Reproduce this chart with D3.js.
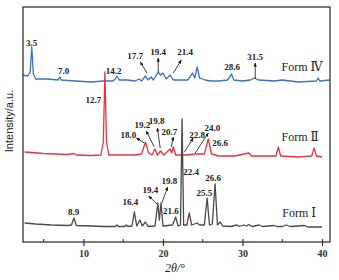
<!DOCTYPE html>
<html>
<head>
<meta charset="utf-8">
<style>
  body { margin: 0; background: #fff; }
  text { font-family: "Liberation Serif", "DejaVu Serif", serif; }
</style>
<script src="https://d3js.org/d3.v7.min.js"></script>
</head>
<body>
<div id="chart"></div>
<script>
// ---- data: [2theta, intensity (a.u., offset stacked)] ----
const formIV = [[2.4,167],[3.0,166],[3.3,170],[3.5,195],[3.7,168],[4.0,163],[5.5,163],[6.8,162],[7.0,165],[7.2,162],
  [9,161],[11,160],[12.5,161],[13.7,161],[14.0,163],[14.2,166],[14.5,162],[15.5,162],[16.5,161],[17.0,163],[17.3,161],
  [17.8,166],[18.1,162],[18.5,165],[18.8,162],[19.1,166],[19.4,170],[19.7,167],[20.0,169],[20.4,163],[20.9,167],
  [21.3,162],[22,162],[23.1,162],[23.4,165],[23.7,169],[24.0,164],[24.3,175],[24.6,164],[25.3,162],[26,161],[27,161],
  [28.1,162],[28.4,165],[28.6,168],[28.9,162],[30,161],[31,162],[31.5,164],[32,162],[34,161],[35,162],[37,160],
  [39.3,161],[39.5,164],[39.7,161],[41,162]];
const formII = [[2.6,90],[5,88.5],[8,87.5],[8.8,88.5],[9.1,87],[11,86.5],[12.2,87],[12.5,100],[12.7,170],[12.9,100],
  [13.2,87],[15,87],[16.5,87],[17.3,88],[17.8,100],[18.2,89],[18.6,87],[19.0,93],[19.3,87],[19.7,91],[20.1,87],
  [20.9,93],[21.1,89],[21.3,95],[21.6,87],[22.4,87],[23,87],[24,88],[25.2,88],[25.7,103],[26.1,88],[27,86],[29,86],
  [30.8,89],[31.1,86],[33,86],[34.2,86],[34.5,95],[34.8,86],[37,85],[38.7,86],[39.0,94],[39.3,86],[40,85]];
const formI = [[2.6,19],[4,18],[6,17],[8,16.5],[8.5,17],[8.8,24],[9.1,16.5],[11,16],[12.5,15.5],[14.0,15.5],[14.2,17],
  [14.4,15.5],[15.2,15.5],[15.4,17],[15.6,15.5],[16.1,16],[16.4,30],[16.7,16],[17.1,22],[17.4,16],[17.8,20],[18.1,15.5],
  [19.0,16],[19.35,39],[19.55,22],[19.75,39],[20.0,16],[21.2,17],[21.6,25],[21.9,16],[22.2,17],[22.4,123],[22.6,17],
  [23.0,17],[23.3,29],[23.6,17],[24.3,19],[24.6,17],[25.2,17],[25.55,44],[25.85,17],[26.2,18],[26.55,58],[26.85,17],
  [27.2,20],[27.5,16],[28.5,15.5],[29.3,17],[29.6,15.5],[30.2,17],[30.5,16],[30.8,17.5],[31.2,15.5],[32.1,17],
  [32.5,15.5],[34,16.5],[34.3,15.5],[35,15.5],[35.5,17],[36,15.5],[37.8,16.5],[38.2,15],[40,15]];

const seriesNames = ["Form \u2163", "Form \u2161", "Form \u2160"];
const seriesColors = ["#3a72c4", "#e8343c", "#4a4a4a"];
const seriesNameAt = [[34.9,175],[34.9,105],[35.0,29]];

// peak labels: [text, 2theta, intensity]
const peakLabels = [
  ["3.5",3.5,199],["7.0",7.5,171],["14.2",13.8,171],["17.7",16.5,186],["19.4",19.4,190],["21.4",22.8,190],
  ["28.6",28.7,175],["31.5",31.6,185],
  ["12.7",11.25,142],["18.0",15.65,107],["19.2",17.4,117],["19.8",19.2,121],["20.7",20.8,110],["22.8",24.3,107],
  ["24.0",26.2,114],["26.6",27.2,99],
  ["8.9",8.75,30],["16.4",15.9,40],["19.4",18.4,52],["19.8",20.8,61],["21.6",21.0,31],["22.4",23.55,70],
  ["25.5",25.2,49],["26.6",26.3,64]
];
// arrows: [from 2theta, from I, to 2theta, to I]
const arrows = [
  [18.0,169,17.15,180],[19.4,170,19.4,184],[21.3,169,22.3,182],[31.6,163,31.6,179],
  [17.65,99,16.65,104],[18.9,95,17.9,111],[19.65,94,19.3,114],[21.05,95,21.3,105],[22.7,90,23.8,104],[24.05,89,25.7,109],
  [19.25,38,18.2,46],[19.85,39,20.6,55]
];
const majorTicks = [10, 20, 30, 40];
const minorTicks = [5, 15, 25, 35];

const W = 339, H = 280;
const margin = { top: 7, right: 9, bottom: 38, left: 23 };

const svg = d3.select("#chart").append("svg")
  .attr("width", W).attr("height", H);

const x = d3.scaleLinear().domain([2.4, 41]).range([margin.left, W - margin.right]);
const y = d3.scaleLinear().domain([0, 235]).range([H - margin.bottom, margin.top]);

svg.append("defs").append("marker")
  .attr("id", "head").attr("viewBox", "0 0 10 10")
  .attr("refX", 9).attr("refY", 5)
  .attr("markerWidth", 5).attr("markerHeight", 5)
  .attr("orient", "auto")
  .append("path").attr("d", "M0,1L10,5L0,9Z").attr("fill", "#111");

// curves
const line = d3.line().x(d => x(d[0])).y(d => y(d[1]));
[formIV, formII, formI].forEach((s, i) => {
  svg.append("path").datum(s)
    .attr("fill", "none")
    .attr("stroke", seriesColors[i])
    .attr("stroke-width", 1.3)
    .attr("stroke-linejoin", "round")
    .attr("d", line);
});

// frame
svg.append("rect")
  .attr("x", margin.left).attr("y", margin.top)
  .attr("width", W - margin.left - margin.right)
  .attr("height", H - margin.top - margin.bottom)
  .attr("fill", "none").attr("stroke", "#333").attr("stroke-width", 1.3);

// x axis
const xAxis = svg.append("g").attr("transform", `translate(0,${H - margin.bottom})`)
  .call(d3.axisBottom(x).tickValues(majorTicks).tickSize(4).tickPadding(4).tickFormat(d3.format("d")));
xAxis.select(".domain").remove();
xAxis.selectAll(".tick line").attr("stroke", "#333").attr("y1", -3).attr("stroke-width", 1.2);
xAxis.selectAll("text").attr("font-size", 10).attr("font-weight", "bold")
  .attr("font-family", "Liberation Serif").attr("fill", "#333");
svg.append("g").selectAll("line").data(minorTicks).join("line")
  .attr("x1", d => x(d)).attr("x2", d => x(d))
  .attr("y1", H - margin.bottom).attr("y2", H - margin.bottom - 3)
  .attr("stroke", "#333").attr("stroke-width", 1.1);

// axis titles
svg.append("text")
  .attr("x", x(21.5)).attr("y", 272)
  .attr("text-anchor", "middle").attr("font-size", 12).attr("font-style", "italic").attr("fill", "#222")
  .text("2\u03b8/\u00b0");
svg.append("text")
  .attr("transform", `translate(13,${y(121)}) rotate(-90)`)
  .attr("text-anchor", "middle")
  .style("font-family", "Liberation Sans, Arial, sans-serif")
  .attr("font-size", 11).attr("fill", "#222")
  .text("Intensity/a.u.");

// arrows
svg.append("g").selectAll("line").data(arrows).join("line")
  .attr("x1", d => x(d[0])).attr("y1", d => y(d[1]))
  .attr("x2", d => x(d[2])).attr("y2", d => y(d[3]))
  .attr("stroke", "#111").attr("stroke-width", 0.8)
  .attr("marker-end", "url(#head)");

// peak labels
svg.append("g").selectAll("text").data(peakLabels).join("text")
  .attr("x", d => x(d[1])).attr("y", d => y(d[2]))
  .attr("text-anchor", "middle").attr("dominant-baseline", "central")
  .attr("font-size", 9).attr("font-weight", "bold").attr("fill", "#222")
  .text(d => d[0]);

// series names
svg.append("g").selectAll("text").data(seriesNames).join("text")
  .attr("x", (d, i) => x(seriesNameAt[i][0])).attr("y", (d, i) => y(seriesNameAt[i][1]))
  .attr("dominant-baseline", "central")
  .attr("font-size", 12).attr("fill", "#222")
  .text(d => d);
</script>
</body>
</html>
